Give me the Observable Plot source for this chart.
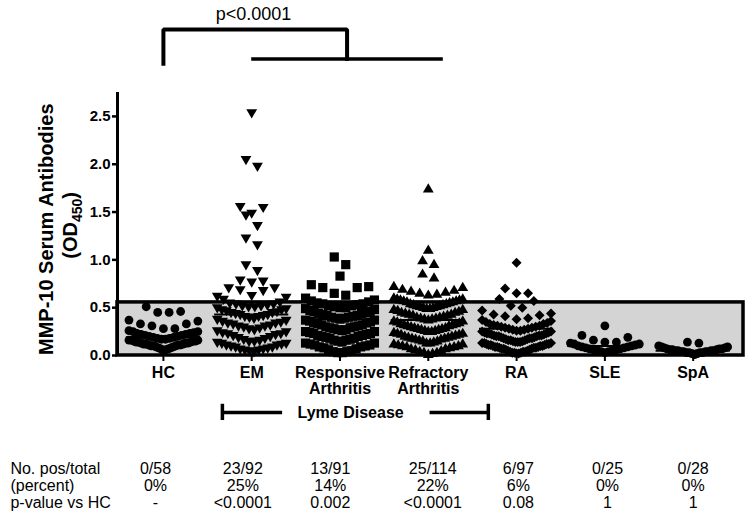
<!DOCTYPE html>
<html><head><meta charset="utf-8">
<script src="https://cdn.jsdelivr.net/npm/d3@7"></script>
<script src="https://cdn.jsdelivr.net/npm/@observablehq/plot@0.6"></script>
<style>html,body{margin:0;padding:0;background:#fff;} #chart svg{display:block;}</style>
</head><body><div id="chart"></div>
<script>
// ---------- data ----------
const categories = ["HC", "EM", "Responsive\nArthritis", "Refractory\nArthritis", "RA", "SLE", "SpA"];

const hc = [0.51, 0.46, 0.45, 0.45, 0.37, 0.36, 0.33, 0.33, 0.31, 0.28, 0.28,
  0.26, 0.25, 0.25, 0.24, 0.23, 0.23, 0.22, 0.22, 0.21, 0.21, 0.20, 0.20, 0.19, 0.19, 0.18, 0.18,
  0.17, 0.17, 0.16, 0.16, 0.16, 0.15, 0.15, 0.15, 0.14, 0.14, 0.14, 0.13, 0.13, 0.13, 0.12, 0.12,
  0.12, 0.11, 0.11, 0.11, 0.10, 0.10, 0.10, 0.09, 0.09, 0.08, 0.08, 0.07, 0.07, 0.06, 0.05];

const em = [2.53, 2.04, 1.97, 1.55, 1.54, 1.48, 1.46, 1.35, 1.22, 1.15, 0.94, 0.88, 0.78, 0.77, 0.76,
  0.70, 0.70, 0.68, 0.67, 0.62, 0.61, 0.60, 0.58,
  0.55, 0.54, 0.53, 0.53, 0.52, 0.51, 0.51, 0.50, 0.50, 0.49, 0.48, 0.47, 0.47, 0.46,
  0.45, 0.44, 0.44, 0.43, 0.42, 0.42, 0.41, 0.40, 0.40, 0.39, 0.38, 0.37,
  0.36, 0.35, 0.34, 0.33, 0.33, 0.32, 0.31, 0.30, 0.30, 0.29, 0.28, 0.27, 0.26,
  0.25, 0.24, 0.23, 0.22, 0.22, 0.21, 0.20, 0.19, 0.18, 0.17, 0.16, 0.15,
  0.14, 0.14, 0.13, 0.12, 0.12, 0.11, 0.10, 0.10, 0.09, 0.08, 0.08, 0.07,
  0.06, 0.06, 0.05, 0.05, 0.04, 0.03];

const responsive = [1.03, 0.95, 0.83, 0.74, 0.72, 0.71, 0.71, 0.65, 0.63, 0.60, 0.58, 0.57, 0.56,
  0.55, 0.54, 0.54, 0.53, 0.52, 0.52, 0.51, 0.50, 0.50, 0.49, 0.48, 0.47, 0.46, 0.46,
  0.45, 0.44, 0.44, 0.43, 0.42, 0.42, 0.41, 0.40, 0.40, 0.39, 0.39, 0.38, 0.37, 0.37, 0.36, 0.35,
  0.34, 0.34, 0.33, 0.32, 0.32, 0.31, 0.30, 0.30, 0.29, 0.29, 0.28, 0.27, 0.27, 0.26, 0.25, 0.25,
  0.24, 0.23, 0.23, 0.22, 0.21, 0.21, 0.20, 0.20, 0.19, 0.18, 0.18, 0.17, 0.16, 0.16, 0.15,
  0.14, 0.13, 0.13, 0.12, 0.11, 0.11, 0.10, 0.09, 0.09, 0.08, 0.07, 0.06, 0.05,
  0.04, 0.04, 0.03, 0.03];

const refractory = [1.75, 1.11, 1.00, 0.96, 0.86, 0.82, 0.73, 0.72, 0.70, 0.69, 0.68, 0.67, 0.66,
  0.65, 0.64, 0.61, 0.60, 0.60, 0.59, 0.59, 0.58, 0.58, 0.57, 0.57, 0.56,
  0.55, 0.55, 0.54, 0.54, 0.53, 0.53, 0.52, 0.52, 0.51, 0.51, 0.50, 0.50, 0.49, 0.49, 0.48, 0.47, 0.46, 0.46,
  0.45, 0.44, 0.44, 0.43, 0.43, 0.42, 0.41, 0.41, 0.40, 0.40, 0.39, 0.39, 0.38, 0.37, 0.37, 0.36, 0.35,
  0.34, 0.34, 0.33, 0.33, 0.32, 0.32, 0.31, 0.30, 0.30, 0.29, 0.29, 0.28, 0.28, 0.27, 0.27, 0.26, 0.26, 0.25,
  0.24, 0.24, 0.23, 0.23, 0.22, 0.21, 0.21, 0.20, 0.20, 0.19, 0.19, 0.18, 0.18, 0.17, 0.16, 0.16, 0.15,
  0.14, 0.14, 0.13, 0.13, 0.12, 0.11, 0.11, 0.10, 0.10, 0.09, 0.08, 0.08, 0.07, 0.06, 0.05,
  0.04, 0.04, 0.03, 0.02];

const ra = [0.97, 0.70, 0.65, 0.65, 0.59, 0.57,
  0.52, 0.50, 0.47, 0.44, 0.43, 0.42, 0.41, 0.39, 0.38, 0.37, 0.36, 0.35,
  0.34, 0.33, 0.33, 0.32, 0.31, 0.31, 0.30, 0.30, 0.29, 0.29, 0.28, 0.28, 0.27, 0.27, 0.26, 0.26, 0.25, 0.25,
  0.24, 0.24, 0.23, 0.23, 0.23, 0.22, 0.22, 0.21, 0.21, 0.21, 0.20, 0.20, 0.20, 0.19, 0.19, 0.18, 0.18, 0.18,
  0.17, 0.17, 0.16, 0.16, 0.16, 0.15, 0.15,
  0.14, 0.14, 0.14, 0.13, 0.13, 0.13, 0.12, 0.12, 0.12, 0.11, 0.11, 0.11, 0.10, 0.10, 0.10, 0.09, 0.09, 0.09,
  0.08, 0.08, 0.08, 0.07, 0.07, 0.07, 0.06, 0.06, 0.05, 0.05,
  0.04, 0.04, 0.04, 0.03, 0.03, 0.03, 0.02, 0.02];

const sle = [0.31, 0.21, 0.19, 0.16, 0.14, 0.14, 0.13, 0.12, 0.12, 0.11, 0.10, 0.10, 0.09, 0.09, 0.08,
  0.08, 0.07, 0.07, 0.06, 0.06, 0.05, 0.05, 0.04, 0.04, 0.03];

const spa = [0.14, 0.13, 0.10, 0.09, 0.09, 0.08, 0.08, 0.07, 0.07, 0.07, 0.06, 0.06, 0.06, 0.05, 0.05,
  0.05, 0.05, 0.04, 0.04, 0.04, 0.04, 0.03, 0.03, 0.03, 0.03, 0.02, 0.02, 0.01];

const groupMeans = [0.19, 0.43, 0.38, 0.37, 0.28, 0.10, 0.05];
const cutoff = 0.555;
const yTicks = [0, 0.5, 1.0, 1.5, 2.0, 2.5];

const rowLabels = ["No. pos/total", "(percent)", "p-value vs HC"];
const posTotal = ["0/58", "23/92", "13/91", "25/114", "6/97", "0/25", "0/28"];
const percent = ["0%", "25%", "14%", "22%", "6%", "0%", "0%"];
const pValues = ["-", "<0.0001", "0.002", "<0.0001", "0.08", "1", "1"];
const comparisonLabel = "p<0.0001";
const lymeLabel = "Lyme Disease";

// ---------- layout (in data units of the chart scales) ----------
const xDomain = [-0.52, 6.57];
const yTop = 2.75;
const tableColX = [-0.09, 0.9, 1.89, 3.05, 4.02, 5.03, 6.0];
const tableRowY = [-1.235, -1.413, -1.59];
const tableLabelX = -1.733;
const bracketPath = [{x: 0, y: 3.05}, {x: 0, y: 3.41}, {x: 2.08, y: 3.41}, {x: 2.08, y: 3.10}];
const bracketLow = {x1: 1, x2: 3.17, y: 3.10};
const pLabelPos = {x: 1.02, y: 3.565};
const lyme = {x1: 0.668, x2: 3.68, inner1: 1.35, inner2: 3.02, y: -0.596, yTickTop: -0.51, yTickBottom: -0.68, textX: 2.12};

// ---------- symbols ----------
const radius = s => Math.sqrt(s / Math.PI);
const sym = {
  circle: {draw(c, s) { const r = radius(s); c.moveTo(r, 0); c.arc(0, 0, r, 0, 2 * Math.PI); }},
  tdown: {draw(c, s) { const r = radius(s); c.moveTo(-r, -0.8 * r); c.lineTo(r, -0.8 * r); c.lineTo(0, 0.9 * r); c.closePath(); }},
  tup: {draw(c, s) { const r = radius(s); c.moveTo(-r, 0.8 * r); c.lineTo(r, 0.8 * r); c.lineTo(0, -0.9 * r); c.closePath(); }},
  square: {draw(c, s) { const r = radius(s); c.rect(-r, -r, 2 * r, 2 * r); }},
  diamond: {draw(c, s) { const r = radius(s); c.moveTo(0, -r); c.lineTo(r, 0); c.lineTo(0, r); c.lineTo(-r, 0); c.closePath(); }}
};
const groups = [hc, em, responsive, refractory, ra, sle, spa];
const groupSymbols = [sym.circle, sym.tdown, sym.square, sym.tup, sym.diamond, sym.circle, sym.circle];
const groupR = [4.4, 5.4, 4.6, 5.4, 5.0, 4.4, 4.4];

// ---------- scatter layout: adaptive rows from the lowest value up, each row spread horizontally ----------
const binH = 0.11, maxStep = 0.13, maxHalf = 0.39;
const points = [];
groups.forEach((vals, gi) => {
  const sorted = vals.slice().sort(d3.ascending);
  const rows = [];
  let cur = [];
  for (const v of sorted) {
    if (cur.length && v - cur[0] > binH) { rows.push(cur); cur = []; }
    cur.push(v);
  }
  if (cur.length) rows.push(cur);
  for (const s of rows) {
    const n = s.length;
    const step = n > 1 ? Math.min(maxStep, 2 * maxHalf / (n - 1)) : 0;
    s.forEach((v, i) => {
      let k;
      if (n % 2 === 1) k = i === 0 ? 0 : (i % 2 === 1 ? (i + 1) / 2 : -i / 2);
      else { const j = Math.floor(i / 2); k = (i % 2 === 0 ? 1 : -1) * (j + 0.5); }
      points.push({g: gi, v, x: gi + k * step});
    });
  }
});

const font = "'Liberation Sans', Arial, Helvetica, sans-serif";

const plot = Plot.plot({
  width: 750, height: 516,
  marginLeft: 117, marginRight: 7, marginTop: 92, marginBottom: 161,
  x: {domain: xDomain, axis: null},
  y: {domain: [0, yTop], axis: null},
  style: {fontFamily: font, background: "white", color: "black", overflow: "visible"},
  marks: [
    Plot.rect([cutoff], {x1: () => xDomain[0], x2: () => xDomain[1], y1: () => 0, y2: d => d,
      fill: "#d4d4d4", stroke: "black", strokeWidth: 3.5}),
    Plot.ruleX([xDomain[0]], {y1: 0, y2: yTop, strokeWidth: 3}),
    Plot.axisY({ticks: yTicks, tickFormat: d => d.toFixed(1), fontSize: 15, fontWeight: "bold",
      tickSize: 5, tickPadding: 2, strokeWidth: 2.5, label: null}),
    Plot.axisX({ticks: d3.range(categories.length), tickFormat: () => "", tickSize: 6, strokeWidth: 2, label: null}),
    Plot.text(categories, {x: (d, i) => i, y: () => 0, text: d => d, dy: 11, lineAnchor: "top",
      fontSize: 16, fontWeight: "bold", lineHeight: 1.0}),
    ...groups.map((_, gi) => Plot.dot(points.filter(p => p.g === gi), {
      x: "x", y: "v", r: groupR[gi], symbol: groupSymbols[gi], fill: "black", stroke: "none"})),
    Plot.ruleY(groupMeans, {y: d => d, x1: (d, i) => i - 0.42, x2: (d, i) => i + 0.42, strokeWidth: 2}),
    // comparison bracket
    Plot.line(bracketPath, {x: "x", y: "y", strokeWidth: 4, strokeLinejoin: "miter", strokeLinecap: "square"}),
    Plot.ruleY([bracketLow], {y: "y", x1: "x1", x2: "x2", strokeWidth: 3.5}),
    Plot.text([comparisonLabel], {x: () => pLabelPos.x, y: () => pLabelPos.y, text: d => d, fontSize: 18, lineAnchor: "middle"}),
    // Lyme disease bracket
    Plot.ruleY([lyme], {y: "y", x1: "x1", x2: "inner1", strokeWidth: 3.5}),
    Plot.ruleY([lyme], {y: "y", x1: "inner2", x2: "x2", strokeWidth: 3.5}),
    Plot.ruleX([lyme.x1, lyme.x2], {x: d => d, y1: lyme.yTickTop, y2: lyme.yTickBottom, strokeWidth: 3.5}),
    Plot.text([lymeLabel], {x: () => lyme.textX, y: () => lyme.y, text: d => d, fontSize: 16, fontWeight: "bold", lineAnchor: "middle"}),
    // table
    Plot.text(rowLabels, {x: () => tableLabelX, y: (d, i) => tableRowY[i], text: d => d, textAnchor: "start", fontSize: 16, lineAnchor: "bottom"}),
    Plot.text(posTotal, {x: (d, i) => tableColX[i], y: () => tableRowY[0], text: d => d, fontSize: 16, lineAnchor: "bottom"}),
    Plot.text(percent, {x: (d, i) => tableColX[i], y: () => tableRowY[1], text: d => d, fontSize: 16, lineAnchor: "bottom"}),
    Plot.text(pValues, {x: (d, i) => tableColX[i], y: () => tableRowY[2], text: d => d, fontSize: 16, lineAnchor: "bottom"}),
    // y-axis title
    Plot.text(["MMP-10 Serum Antibodies"], {frameAnchor: "left", y: () => 1.32, dx: -71, rotate: -90,
      fontSize: 20, fontWeight: "bold", textAnchor: "middle", lineAnchor: "middle"}),
    Plot.text(["(OD450)"], {frameAnchor: "left", y: () => 1.36, dx: -47, rotate: -90,
      fontSize: 20, fontWeight: "bold", textAnchor: "middle", lineAnchor: "middle"})
  ]
});

// subscript for OD450
plot.querySelectorAll("text").forEach(t => {
  if (t.textContent === "(OD450)") {
    t.textContent = "";
    const ns = "http://www.w3.org/2000/svg";
    const a = document.createElementNS(ns, "tspan"); a.textContent = "(OD";
    const b = document.createElementNS(ns, "tspan"); b.textContent = "450"; b.setAttribute("font-size", "14"); b.setAttribute("dy", "5");
    const c = document.createElementNS(ns, "tspan"); c.textContent = ")"; c.setAttribute("dy", "-5");
    t.append(a, b, c);
  }
});

document.getElementById("chart").appendChild(plot);
</script>
</body></html>
